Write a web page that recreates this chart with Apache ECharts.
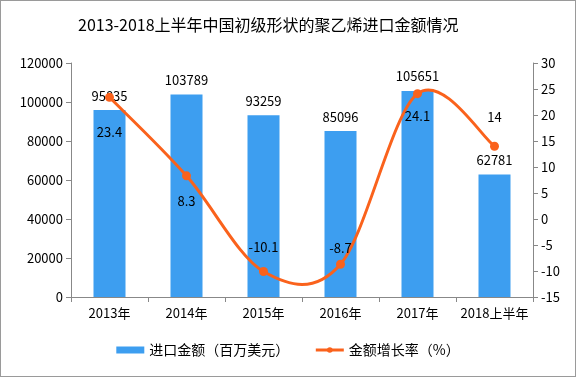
<!DOCTYPE html>
<html>
<head>
<meta charset="utf-8">
<script src="https://cdn.jsdelivr.net/npm/echarts@6/dist/echarts.min.js"></script>
<style>
  html, body { margin: 0; padding: 0; background: #fff; }
  #main {
    width: 574px;
    height: 375px;
    border: 1px solid #9a9a9a;
  }
</style>
</head>
<body>
<div id="main"></div>
<script>
  // 数据
  var years = ['2013年', '2014年', '2015年', '2016年', '2017年', '2018上半年']
  var amount = [95835, 103789, 93259, 85096, 105651, 62781]
  var growth = [23.4, 8.3, -10.1, -8.7, 24.1, 14]
  var leftTicks = [0, 120000, 20000]
  var rightTicks = [-15, 30, 5]

  // 折线标签相对于点的纵向偏移
  var growthLabelDy = [35, 25, -24, -16, 22, -29]

  var font = 'Noto Sans CJK SC'
  var lineColor = '#fa621c'
  var chart = echarts.init(document.getElementById('main'))

  var growthData = []
  var curveData = []
  for (var i = 0; i < growth.length; i++) {
    growthData.push({
      value: growth[i],
      label: {position: 'inside', offset: [0, growthLabelDy[i]]}
    })
    curveData.push([i, growth[i]])
  }

  // 平滑曲线（Catmull-Rom，和原图一样会有过冲）
  function renderCurve(params, api) {
    if (params.dataIndex !== 0) return null
    var pts = []
    for (var i = 0; i < curveData.length; i++) {
      pts.push(api.coord(curveData[i]))
    }
    var d = 'M' + pts[0][0] + ' ' + pts[0][1]
    for (var i = 0; i < pts.length - 1; i++) {
      var p0 = pts[Math.max(i - 1, 0)]
      var p1 = pts[i]
      var p2 = pts[i + 1]
      var p3 = pts[Math.min(i + 2, pts.length - 1)]
      var c1x = p1[0] + (p2[0] - p0[0]) / 6
      var c1y = p1[1] + (p2[1] - p0[1]) / 6
      var c2x = p2[0] - (p3[0] - p1[0]) / 6
      var c2y = p2[1] - (p3[1] - p1[1]) / 6
      d += ' C' + c1x + ' ' + c1y + ' ' + c2x + ' ' + c2y + ' ' + p2[0] + ' ' + p2[1]
    }
    return {
      type: 'path',
      shape: {pathData: d},
      style: {fill: null, stroke: lineColor, lineWidth: 3}
    }
  }

  chart.setOption({
    animation: false,
    textStyle: {fontFamily: font},
    title: {
      text: '2013-2018上半年中国初级形状的聚乙烯进口金额情况',
      left: 72,
      top: 11,
      textStyle: {fontSize: 16, fontWeight: 'normal', color: '#000', fontFamily: font}
    },
    grid: {left: 70, right: 42, top: 62, bottom: 79},
    legend: {
      bottom: 14,
      left: 'center',
      itemGap: 25,
      itemWidth: 28,
      itemHeight: 7,
      textStyle: {fontSize: 14, color: '#000', fontFamily: font},
      data: [
        {name: '进口金额（百万美元）', icon: 'rect'},
        {name: '金额增长率（%）', lineStyle: {color: lineColor, width: 3, opacity: 1}}
      ]
    },
    xAxis: {
      type: 'category',
      data: years,
      axisLine: {lineStyle: {color: '#888'}},
      axisTick: {show: true, alignWithLabel: false, length: 5, lineStyle: {color: '#888'}},
      axisLabel: {color: '#000', fontSize: 13, margin: 10, interval: 0}
    },
    yAxis: [{
      type: 'value',
      min: leftTicks[0],
      max: leftTicks[1],
      interval: leftTicks[2],
      splitLine: {show: false},
      axisLine: {show: true, lineStyle: {color: '#888'}},
      axisTick: {show: true, length: 5, lineStyle: {color: '#888'}},
      axisLabel: {color: '#000', fontSize: 13, margin: 8, formatter: function (v) { return String(v) }}
    }, {
      type: 'value',
      min: rightTicks[0],
      max: rightTicks[1],
      interval: rightTicks[2],
      splitLine: {show: false},
      axisLine: {show: true, lineStyle: {color: '#888'}},
      axisTick: {show: true, length: 5, lineStyle: {color: '#888'}},
      axisLabel: {color: '#000', fontSize: 13, margin: 8}
    }],
    series: [{
      name: '进口金额（百万美元）',
      type: 'bar',
      data: amount,
      barWidth: 32,
      itemStyle: {color: '#3d9ef0'},
      label: {show: true, position: 'top', distance: 8, color: '#000', fontSize: 13}
    }, {
      name: 'curve',
      type: 'custom',
      yAxisIndex: 1,
      renderItem: renderCurve,
      data: curveData,
      z: 3,
      silent: true
    }, {
      name: '金额增长率（%）',
      type: 'line',
      yAxisIndex: 1,
      data: growthData,
      symbol: 'circle',
      symbolSize: 9,
      z: 4,
      lineStyle: {color: lineColor, width: 3, opacity: 0},
      itemStyle: {color: lineColor},
      label: {show: true, color: '#000', fontSize: 13}
    }]
  })
</script>
</body>
</html>
